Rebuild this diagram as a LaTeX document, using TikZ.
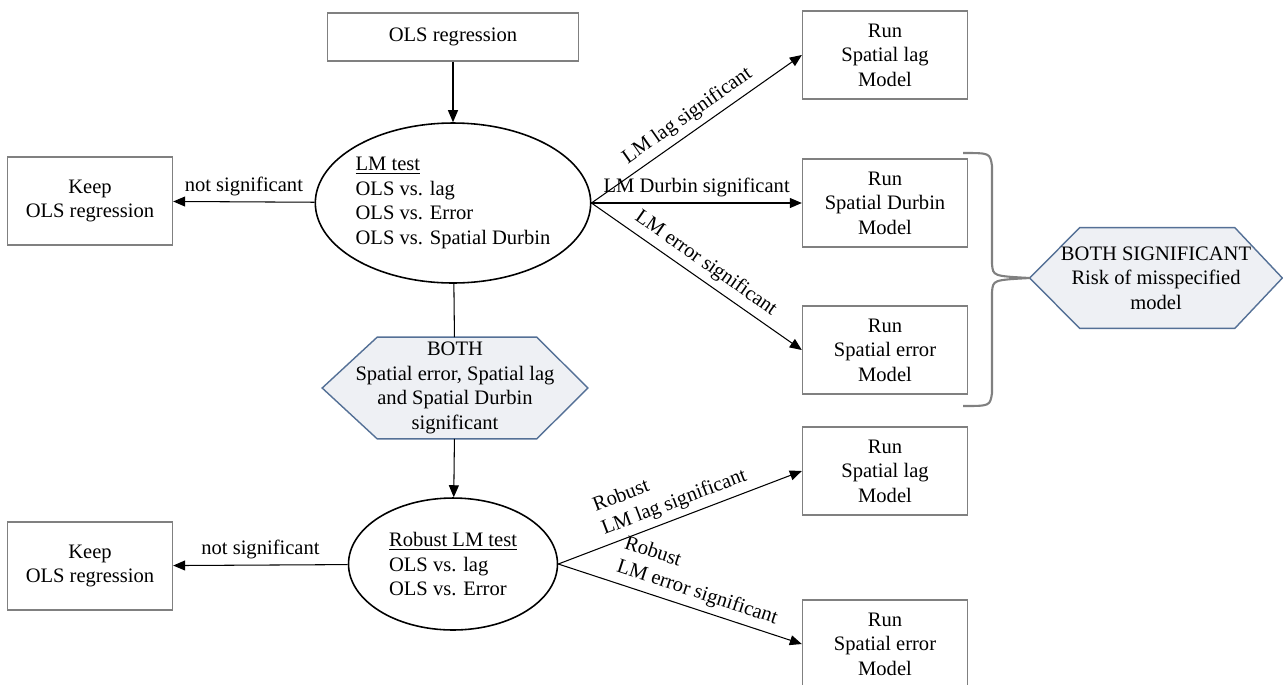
\documentclass[tikz,border=0pt]{standalone}
\usepackage{fontspec}
\setmainfont{Liberation Serif}
\usetikzlibrary{arrows.meta,shapes.geometric,backgrounds}

\definecolor{hexfill}{RGB}{238,240,244}
\definecolor{hexline}{RGB}{84,112,150}
\definecolor{boxline}{RGB}{128,128,128}

\tikzset{
	runbox/.style={draw=boxline, line width=0.8pt, minimum width=3.3cm, minimum height=1.76cm, align=center},
	testoval/.style={ellipse, draw=black, line width=0.9pt, inner sep=0pt, align=left},
	hextext/.style={align=center, inner sep=0pt},
	hexedge/.style={draw=hexline, fill=hexfill, line width=0.8pt},
	arr/.style={-{Triangle[length=0.24cm,width=0.2cm]}, line width=0.6pt},
	link/.style={line width=0.6pt}
}

\begin{document}
\begin{tikzpicture}[x=0.02cm,y=-0.02cm,font=\fontsize{11.7pt}{14pt}\selectfont]
	\useasboundingbox (0,0) rectangle (1283,684);

	\node[runbox, minimum width=5.02cm, minimum height=0.96cm] (ols) at (453,37) {OLS regression};
	\node[testoval, minimum width=5.06cm, minimum height=3.2cm] (lm) at (453,203) {\underline{LM test}\\OLS vs. lag\\OLS vs. Error\\OLS vs. Spatial Durbin};
	\node[runbox] (keep1) at (90,201) {Keep\\OLS regression};

	\node[runbox] (lag1) at (885,55) {Run\\Spatial lag\\Model};
	\node[runbox] (durbin) at (885,203) {Run\\Spatial Durbin\\Model};
	\node[runbox] (err1) at (885,350) {Run\\Spatial error\\Model};

	\node[hextext, minimum width=5.04cm, minimum height=2cm] (risk) at (1156,278) {BOTH SIGNIFICANT\\Risk of misspecified\\model};
	\node[hextext, minimum width=5.3cm, minimum height=2.02cm] (both) at (455,388) {BOTH\\Spatial error, Spatial lag\\and Spatial Durbin\\significant};

	\begin{scope}[on background layer]
		\draw [hexedge] (risk.west) -- ([xshift=1cm]risk.north west) -- ([xshift=-0.95cm]risk.north east) -- (risk.east)
			-- ([xshift=-0.95cm]risk.south east) -- ([xshift=1cm]risk.south west) -- cycle;
		\draw [hexedge] (both.west) -- ([xshift=1.1cm]both.north west) -- ([xshift=-1.02cm]both.north east) -- (both.east)
			-- ([xshift=-1.02cm]both.south east) -- ([xshift=1.1cm]both.south west) -- cycle;
	\end{scope}

	\node[testoval, minimum width=4.18cm, minimum height=2.64cm] (rlm) at (453,564) {\underline{Robust LM test}\\OLS vs. lag\\OLS vs. Error};
	\node[runbox] (keep2) at (90,566) {Keep\\OLS regression};

	\node[runbox] (lag2) at (885,471) {Run\\Spatial lag\\Model};
	\node[runbox] (err2) at (885,644) {Run\\Spatial error\\Model};

	\draw [arr] (ols) -- (lm);
	\draw [arr] (lm) -- node[above]{not significant} (keep1);

	\draw [arr] (lm.east) -- node[sloped,above]{LM lag significant} (lag1.west);
	\draw [arr] (lm.east) -- node[above]{LM Durbin significant} (durbin.west);
	\draw [arr] (lm.east) -- node[sloped,above]{LM error significant} (err1.west);

	\draw [boxline, line width=1.2pt] (963,153) .. controls (990,153) .. (992,166) -- (992,264)
		.. controls (993,276) .. (risk.west) .. controls (993,280) .. (992,292) -- (992,393)
		.. controls (990,406) .. (963,406);

	\draw [link] (lm) -- (both);
	\draw [arr] (both) -- (rlm);
	\draw [arr] (rlm) -- node[above]{not significant} (keep2);

	\draw [arr] (rlm.east) -- node[sloped,above,align=left]{Robust\\LM lag significant} (lag2.west);
	\draw [arr] (rlm.east) -- node[sloped,above,align=left,pos=0.55]{Robust\\LM error significant} (err2.west);

\end{tikzpicture}
\end{document}
